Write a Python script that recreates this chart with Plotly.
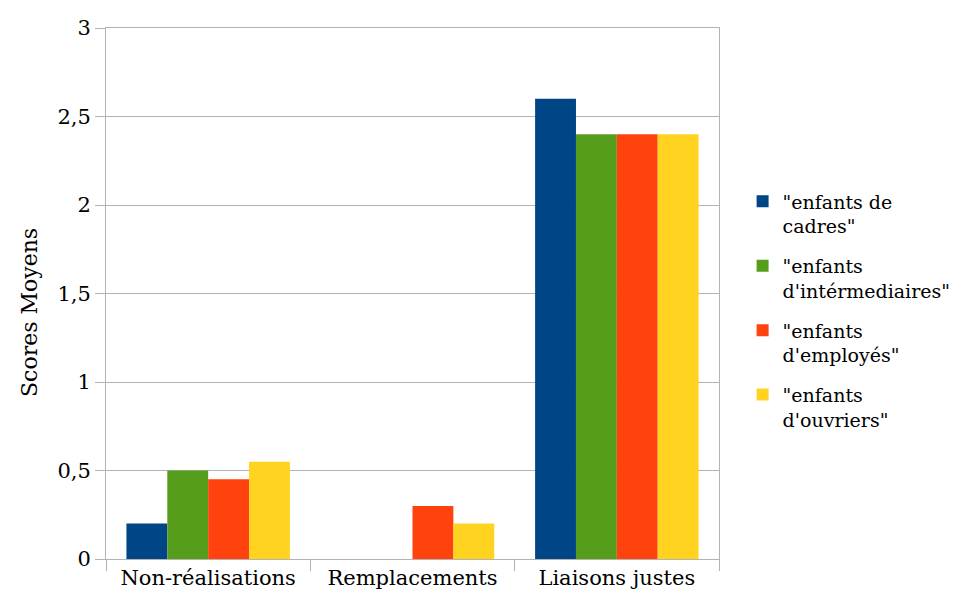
import plotly.graph_objects as go

categories = ["Non-réalisations", "Remplacements", "Liaisons justes"]
series_names = ['"enfants de<br>cadres"', '"enfants<br>d\'intérmediaires"',
                '"enfants<br>d\'employés"', '"enfants<br>d\'ouvriers"']
cadres = [0.2, 0.0, 2.6]
intermediaires = [0.5, 0.0, 2.4]
employes = [0.45, 0.3, 2.4]
ouvriers = [0.55, 0.2, 2.4]
colors = ["#004586", "#579d1c", "#ff420e", "#ffd320"]

ytick_vals = [0, 0.5, 1, 1.5, 2, 2.5, 3]
ytick_text = ["0", "0,5", "1", "1,5", "2", "2,5", "3"]
y_title = "Scores Moyens"

FONT = "DejaVu Serif"
FS = 21

fig = go.Figure()
for i, (name, vals, col) in enumerate(zip(series_names, [cadres, intermediaires, employes, ouvriers], colors)):
    fig.add_trace(go.Bar(x=categories, y=vals, name=name, legendgroup=f"g{i}",
                         marker=dict(color=col, line=dict(width=0))))

fig.update_layout(
    width=954, height=598,
    margin=dict(l=98, r=243, t=20, b=47, autoexpand=False),
    paper_bgcolor="white", plot_bgcolor="white",
    barmode="group", bargap=0.2, bargroupgap=0,
    font=dict(family=FONT, size=FS, color="black"),
    showlegend=True,
    legend=dict(x=1.0385, y=0.709, xanchor="left", yanchor="top", valign="top",
                font=dict(family=FONT, size=19, color="black"),
                itemclick=False, tracegroupgap=12),
    xaxis=dict(showline=True, linecolor="#b3b3b3", linewidth=1, mirror=True,
               ticks="outside", ticklen=11, tickcolor="#b3b3b3", tickson="boundaries",
               showgrid=False, tickfont=dict(family=FONT, size=FS)),
    yaxis=dict(range=[0, 3], tickvals=ytick_vals, ticktext=ytick_text,
               showline=True, linecolor="#b3b3b3", linewidth=1, mirror=True,
               ticks="outside", ticklen=10, tickcolor="#b3b3b3",
               showgrid=True, gridcolor="#b3b3b3", gridwidth=1, zeroline=False,
               tickfont=dict(family=FONT, size=FS)),
    annotations=[dict(text=y_title, xref="paper", yref="paper",
                      x=-0.125, y=0.464, xanchor="center", yanchor="middle",
                      textangle=-90, showarrow=False,
                      font=dict(family=FONT, size=22, color="black"))],
)

fig.write_html("out.html")
